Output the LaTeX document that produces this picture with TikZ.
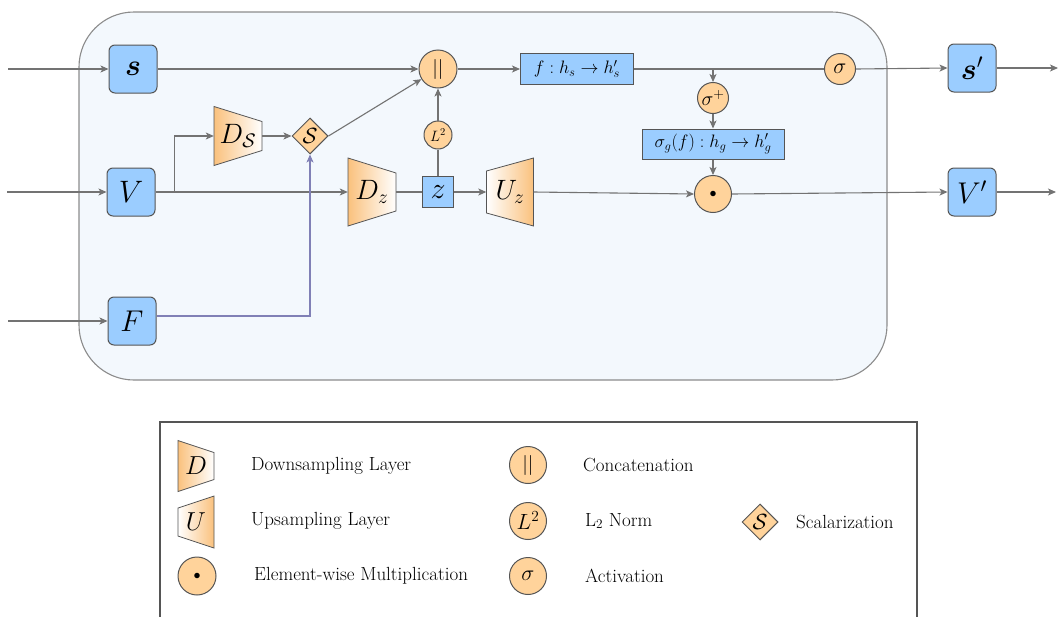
\RequirePackage{fix-cm}
\documentclass[tikz,border=0pt]{standalone}
\usepackage{amsmath}
\usetikzlibrary{arrows.meta,shapes.geometric}

\definecolor{boxblue}{RGB}{155,205,255}
\definecolor{boxline}{RGB}{85,85,85}
\definecolor{opfill}{RGB}{255,211,155}
\definecolor{opdeep}{RGB}{250,193,125}
\definecolor{linegray}{RGB}{115,115,115}
\definecolor{condline}{RGB}{128,128,182}
\definecolor{panel}{RGB}{243,248,253}
\definecolor{panelline}{RGB}{140,140,140}

\newcommand{\fsz}[1]{\fontsize{#1}{#1}\selectfont}

% trapezoid block: name, x, y, width, left height, right height, shading style, label
\newcommand{\trapblock}[8]{%
  \path[shade,#7,draw=boxline,line width=0.8pt]
    ({#2-#4/2},{#3-#5/2}) -- ({#2+#4/2},{#3-#6/2}) --
    ({#2+#4/2},{#3+#6/2}) -- ({#2-#4/2},{#3+#5/2}) -- cycle;
  \node[minimum width={#4pt}] (#1) at (#2,#3) {#8};}

\begin{document}
\begin{tikzpicture}[x=1pt,y=-1pt,
  every node/.style={inner sep=0pt},
  panelbox/.style={draw=panelline,fill=panel,line width=1.1pt,rounded corners=55pt},
  io/.style={draw=boxline,fill=boxblue,rounded corners=6pt,minimum width=48pt,minimum height=48pt,line width=1pt},
  mapbox/.style={draw=boxline,fill=boxblue,line width=1pt},
  op/.style={circle,draw=boxline,fill=opfill,line width=1pt},
  scal/.style={diamond,aspect=1,draw=boxline,fill=opfill,line width=1pt,minimum width=36pt,minimum height=36pt},
  dshade/.style={left color=opdeep,right color=white},
  ushade/.style={left color=white,right color=opdeep},
  tip/.style={-{Stealth[length=8pt,width=7pt,inset=2pt]}},
  link/.style={draw=linegray,line width=1.1pt},
  flow/.style={link,tip},
  cond/.style={draw=condline,line width=1.1pt,tip},
  legtext/.style={anchor=west,font=\fsz{19}},
]
\useasboundingbox (0,0) rectangle (1059,616);

% ---- main block ----
\node[panelbox,minimum width=808pt,minimum height=368pt] (panel) at (483,196) {};

\node[io] (s) at (133,69) {\fsz{30}$\boldsymbol{s}$};
\node[io] (V) at (131,192) {\fsz{31}$V$};
\node[io] (F) at (132,321) {\fsz{30}$F$};

\coordinate (ins) at (8,69);
\coordinate (inV) at (7,192);
\coordinate (inF) at (8,321);

\trapblock{DS}{238}{136}{48}{59}{29}{dshade}{\fsz{28}$D_{\mathcal{S}}$}
\node[scal] (sc) at (310,136) {\fsz{22}$\mathcal{S}$};

\trapblock{DZ}{372}{192}{48}{68}{38}{dshade}{\fsz{28}$D_z$}
\node[mapbox,minimum width=31pt,minimum height=31pt] (z) at (438,192) {\fsz{30}$z$};
\node[op,minimum size=28pt] (L2) at (438,135) {\fsz{15}$L^2$};
\trapblock{UZ}{510}{192}{47}{42}{68}{ushade}{\fsz{28}$U_z$}

\node[op,minimum size=38pt] (cat) at (438,69) {\fsz{20}$||$};
\node[mapbox,minimum width=113pt,minimum height=31pt] (f) at (577,69) {\fsz{18}$f: h_s \to h'_s$};
\node[op,minimum size=31pt] (act) at (840,69) {\fsz{22}$\sigma$};
\node[op,minimum size=31pt] (sp) at (713,98) {\fsz{20}$\sigma^{+}$};
\node[mapbox,minimum width=142pt,minimum height=30pt] (g) at (713,144) {\fsz{18}$\sigma_g(f): h_g \to h'_g$};
\node[op,minimum size=37pt] (dot) at (713,194) {\fsz{14}$\bullet$};

\node[io] (so) at (972,68) {\fsz{30}$\boldsymbol{s}'$};
\node[io] (Vo) at (972,192) {\fsz{30}$V'$};
\coordinate (outs) at (1058,68);
\coordinate (outV) at (1056,192);

% ---- connectors ----
\draw[flow] (ins) -- (s.west);
\draw[flow] (inV) -- (V.west);
\draw[flow] (inF) -- (F.west);

\draw[flow] (s.east) -- (cat.west);
\draw[flow] (V.east) -- (DZ.west);
\draw[flow] (V.east) ++(19,0) |- (DS.west);
\draw[flow] (DS.east) -- (sc.west);
\draw[flow] (sc.east) -- (cat);
\draw[cond] ([yshift=5pt]F.east) -| (sc.south);

\draw[link] (DZ.east) -- (z.west);
\draw[link] (z.north) -- (L2.south);
\draw[flow] (L2.north) -- (cat.south);
\draw[flow] (z.east) -- (UZ.west);
\draw[flow] (UZ.east) -- (dot.west);

\draw[flow] (cat.east) -- (f.west);
\draw[link] (f.east) -- (act.west);
\draw[flow] (sp.north |- f.east) -- (sp.north);
\draw[flow] (sp.south) -- (g.north);
\draw[flow] (g.south) -- (dot.north);

\draw[flow] (act.east) -- (so.west);
\draw[flow] (dot.east) -- (Vo.west);
\draw[flow] (so.east) -- (outs);
\draw[flow] (Vo.east) -- (outV);

% ---- legend ----
\node[draw=boxline,line width=1.3pt,minimum width=757pt,minimum height=220pt] (legend) at (538.5,532) {};

\trapblock{lD}{196}{466}{36}{51}{27}{dshade}{\fsz{26}$D$}
\trapblock{lU}{196}{522}{36}{28}{52}{ushade}{\fsz{26}$U$}
\node[op,minimum size=38pt] (ldot) at (197,576) {\fsz{14}$\bullet$};
\node[legtext] (tD) at (251,466) {Downsampling Layer};
\node[legtext] (tU) at (251,521) {Upsampling Layer};
\node[legtext] (tdot) at (254,576) {Element-wise Multiplication};

\node[op,minimum size=37pt] (lcat) at (528,465) {\fsz{20}$||$};
\node[op,minimum size=37pt] (lL2) at (528,521) {\fsz{22}$L^2$};
\node[op,minimum size=37pt] (lact) at (528,576) {\fsz{22}$\sigma$};
\node[legtext] (tcat) at (583,465) {Concatenation};
\node[legtext] (tL2) at (585,521) {L$_2$ Norm};
\node[legtext] (tact) at (585,576) {Activation};

\node[scal] (lsc) at (760,522) {\fsz{22}$\mathcal{S}$};
\node[legtext] (tsc) at (796,522) {Scalarization};
\end{tikzpicture}
\end{document}
